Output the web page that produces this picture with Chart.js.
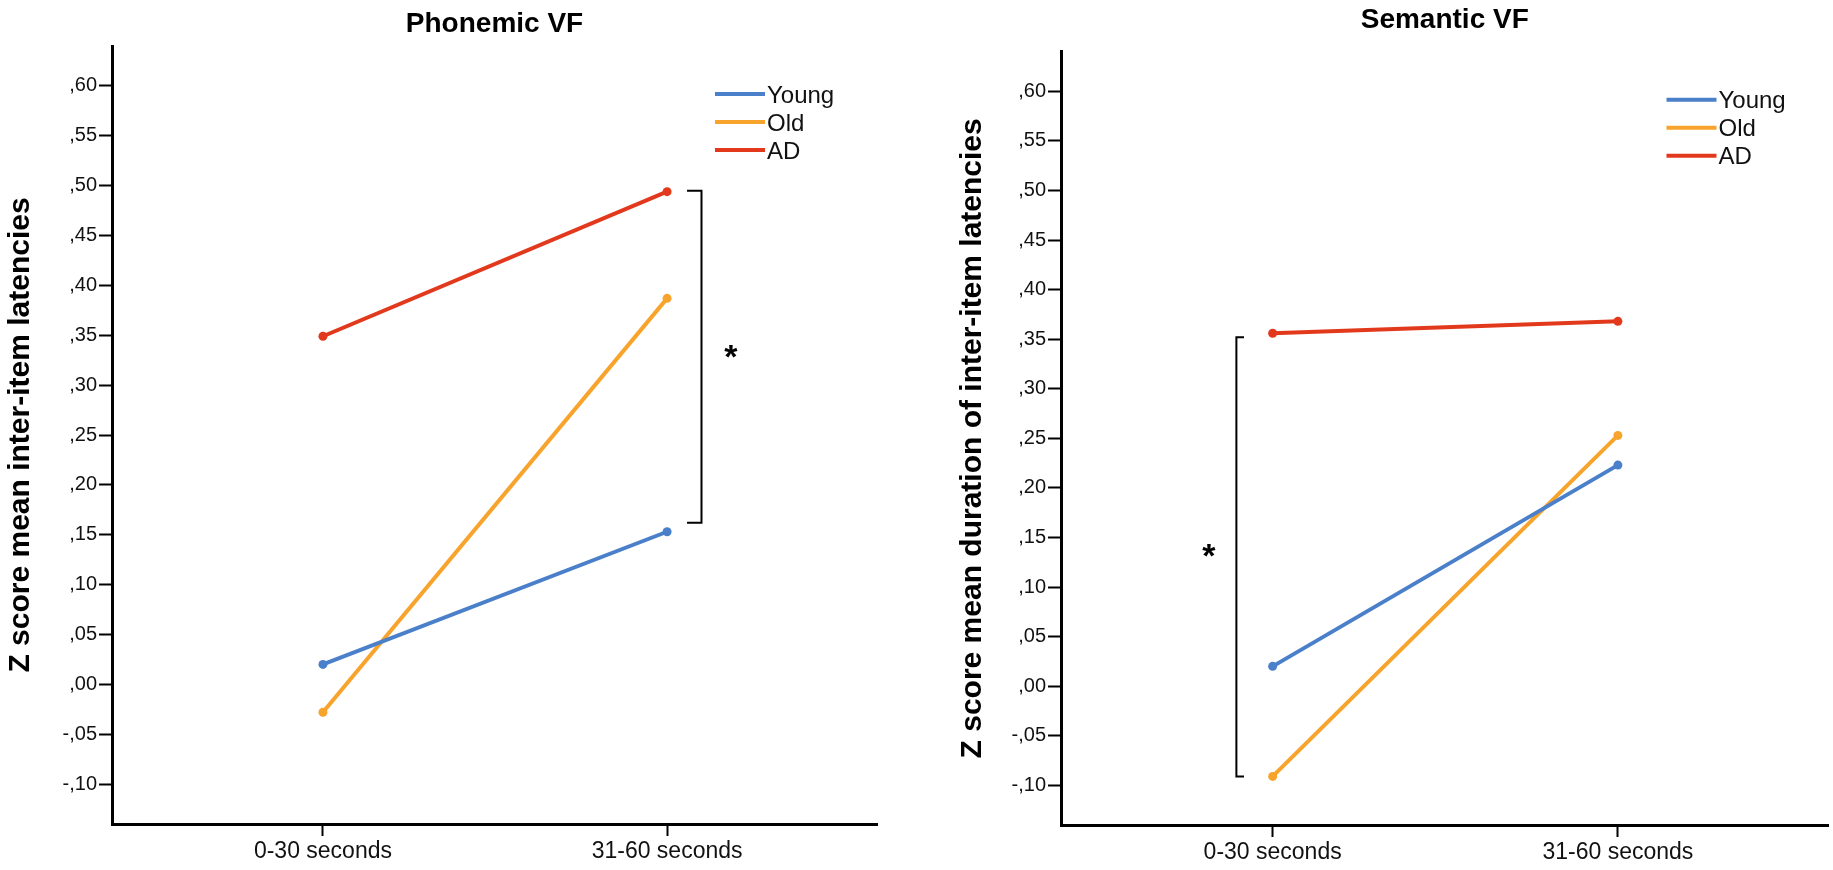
<!DOCTYPE html>
<html>
<head>
<meta charset="utf-8">
<script src="https://cdn.jsdelivr.net/npm/chart.js@4.4.1/dist/chart.umd.min.js"></script>
<style>
  html, body { margin: 0; padding: 0; background: #ffffff; overflow: hidden; }
  #wrap { position: relative; width: 1833px; height: 870px; }
  canvas { position: absolute; top: 0; }
  #phonemic { left: 0; }
  #semantic { left: 916px; }
</style>
</head>
<body>
<div id="wrap">
  <canvas id="phonemic" width="916" height="870"></canvas>
  <canvas id="semantic" width="917" height="870"></canvas>
</div>
<script>
// ---------- DATA ----------
const categories = ['0-30 seconds', '31-60 seconds'];
const seriesNames = ['Young', 'Old', 'AD'];

const phonemicYoung = [0.020, 0.153];
const phonemicOld   = [-0.028, 0.387];
const phonemicAD    = [0.349, 0.494];

const semanticYoung = [0.020, 0.223];
const semanticOld   = [-0.091, 0.253];
const semanticAD    = [0.356, 0.368];

const yTickValues = [-0.10, -0.05, 0.00, 0.05, 0.10, 0.15, 0.20, 0.25, 0.30, 0.35, 0.40, 0.45, 0.50, 0.55, 0.60];
const yTickLabels = ['-,10', '-,05', ',00', ',05', ',10', ',15', ',20', ',25', ',30', ',35', ',40', ',45', ',50', ',55', ',60'];

// significance brackets: [top value, bottom value] and star label
const phonemicBracket = [0.495, 0.162];
const semanticBracket = [0.352, -0.091];
const sigLabel = '*';

// ---------- STYLE ----------
const FONT = "'Liberation Sans', Arial, Helvetica, sans-serif";
const seriesColors = ['#4a7fc9', '#f8a42c', '#e2391d'];

const legendPlugin = {
  id: 'sideLegend',
  afterDraw(chart, args, opts) {
    const { ctx, chartArea } = chart;
    ctx.save();
    chart.data.datasets.forEach((ds, k) => {
      const y = chartArea.top + opts.top + k * opts.spacing;
      const x0 = chartArea.right - opts.right;
      ctx.strokeStyle = ds.borderColor;
      ctx.lineWidth = 4;
      ctx.lineCap = 'butt';
      ctx.beginPath();
      ctx.moveTo(x0, y);
      ctx.lineTo(x0 + 50, y);
      ctx.stroke();
      ctx.fillStyle = '#111';
      ctx.font = '24px ' + FONT;
      ctx.textBaseline = 'middle';
      ctx.textAlign = 'left';
      ctx.fillText(ds.label, x0 + 52, y + 2);
    });
    ctx.restore();
  }
};

const bracketPlugin = {
  id: 'sigBracket',
  afterDatasetsDraw(chart, args, opts) {
    const { ctx } = chart;
    const xs = chart.scales.x, ys = chart.scales.y;
    const bx = xs.getPixelForValue(opts.x);
    const sx = xs.getPixelForValue(opts.serifX);
    const yTop = ys.getPixelForValue(opts.values[0]);
    const yBot = ys.getPixelForValue(opts.values[1]);
    ctx.save();
    ctx.strokeStyle = '#000';
    ctx.lineWidth = 2;
    ctx.lineJoin = 'miter';
    ctx.beginPath();
    ctx.moveTo(sx, yTop);
    ctx.lineTo(bx, yTop);
    ctx.lineTo(bx, yBot);
    ctx.lineTo(sx, yBot);
    ctx.stroke();
    // star
    ctx.font = 'bold 34px ' + FONT;
    ctx.fillStyle = '#000';
    ctx.textAlign = 'center';
    ctx.textBaseline = 'alphabetic';
    const m = ctx.measureText(opts.label);
    const cy = ys.getPixelForValue(opts.starY);
    const baseline = cy + (m.actualBoundingBoxAscent - m.actualBoundingBoxDescent) / 2;
    ctx.fillText(opts.label, xs.getPixelForValue(opts.starX), baseline);
    ctx.restore();
  }
};

function buildConfig(p) {
  return {
    type: 'line',
    data: {
      datasets: seriesNames.map((name, k) => ({
        label: name,
        data: p.values[k].map((v, i) => ({ x: i, y: v })),
        borderColor: seriesColors[k],
        backgroundColor: seriesColors[k],
        borderWidth: 4,
        pointRadius: 4.5,
        pointHoverRadius: 4.5,
        pointBorderWidth: 0,
        tension: 0,
        clip: false
      }))
    },
    options: {
      responsive: false,
      animation: false,
      devicePixelRatio: 1,
      events: [],
      layout: { padding: { left: p.padLeft, right: p.padRight, top: 0, bottom: 0 } },
      plugins: {
        legend: { display: false },
        tooltip: { enabled: false },
        title: {
          display: true,
          text: p.title,
          fullSize: false,
          color: '#000',
          font: { family: FONT, size: 28, weight: 'bold' },
          padding: { top: p.titleTop, bottom: p.titleBottom }
        },
        sideLegend: { top: 48, spacing: 28, right: 162 },
        sigBracket: { x: p.bracketX, serifX: p.serifX, values: p.bracket, starX: p.starX, starY: p.starY, label: sigLabel }
      },
      scales: {
        x: {
          type: 'linear',
          min: -0.613,
          max: 1.61,
          afterBuildTicks: s => { s.ticks = categories.map((c, i) => ({ value: i })); },
          afterFit: s => { s.height = p.xAxisHeight; },
          ticks: {
            callback: (v, i) => categories[i],
            color: '#111',
            font: { family: FONT, size: 23 },
            padding: 2,
            maxRotation: 0,
            autoSkip: false
          },
          grid: { drawOnChartArea: false, drawTicks: true, tickLength: 12, tickWidth: 2, color: '#000' },
          border: { display: true, color: '#000', width: 3 }
        },
        y: {
          type: 'linear',
          min: -0.14,
          max: 0.64,
          afterBuildTicks: s => { s.ticks = yTickValues.map(v => ({ value: v })); },
          afterFit: s => { s.width = p.yAxisWidth; },
          ticks: {
            callback: (v, i) => yTickLabels[i],
            color: '#111',
            font: { family: FONT, size: 20 },
            padding: 2,
            autoSkip: false
          },
          grid: { drawOnChartArea: false, drawTicks: true, tickLength: 13, tickWidth: 2, color: '#000' },
          border: { display: true, color: '#000', width: 3 },
          title: {
            display: true,
            text: p.yTitle,
            color: '#000',
            font: { family: FONT, size: 30, weight: 'bold' },
            padding: { top: 3, bottom: 0 }
          }
        }
      }
    },
    plugins: [legendPlugin, bracketPlugin]
  };
}

new Chart(document.getElementById('phonemic'), buildConfig({
  title: 'Phonemic VF',
  yTitle: 'Z score mean inter-item latencies',
  values: [phonemicYoung, phonemicOld, phonemicAD],
  padLeft: 0, padRight: 39, yAxisWidth: 112, xAxisHeight: 46,
  titleTop: 7, titleBottom: 5.4,
  bracket: phonemicBracket, bracketX: 1.1, serifX: 1.058, starX: 1.185, starY: 0.334
}));

new Chart(document.getElementById('semantic'), buildConfig({
  title: 'Semantic VF',
  yTitle: 'Z score mean duration of inter-item latencies',
  values: [semanticYoung, semanticOld, semanticAD],
  padLeft: 35.5, padRight: 2, yAxisWidth: 109.5, xAxisHeight: 45,
  titleTop: 3.2, titleBottom: 14.9,
  bracket: semanticBracket, bracketX: -0.105, serifX: -0.083, starX: -0.185, starY: 0.137
}));
</script>
</body>
</html>
